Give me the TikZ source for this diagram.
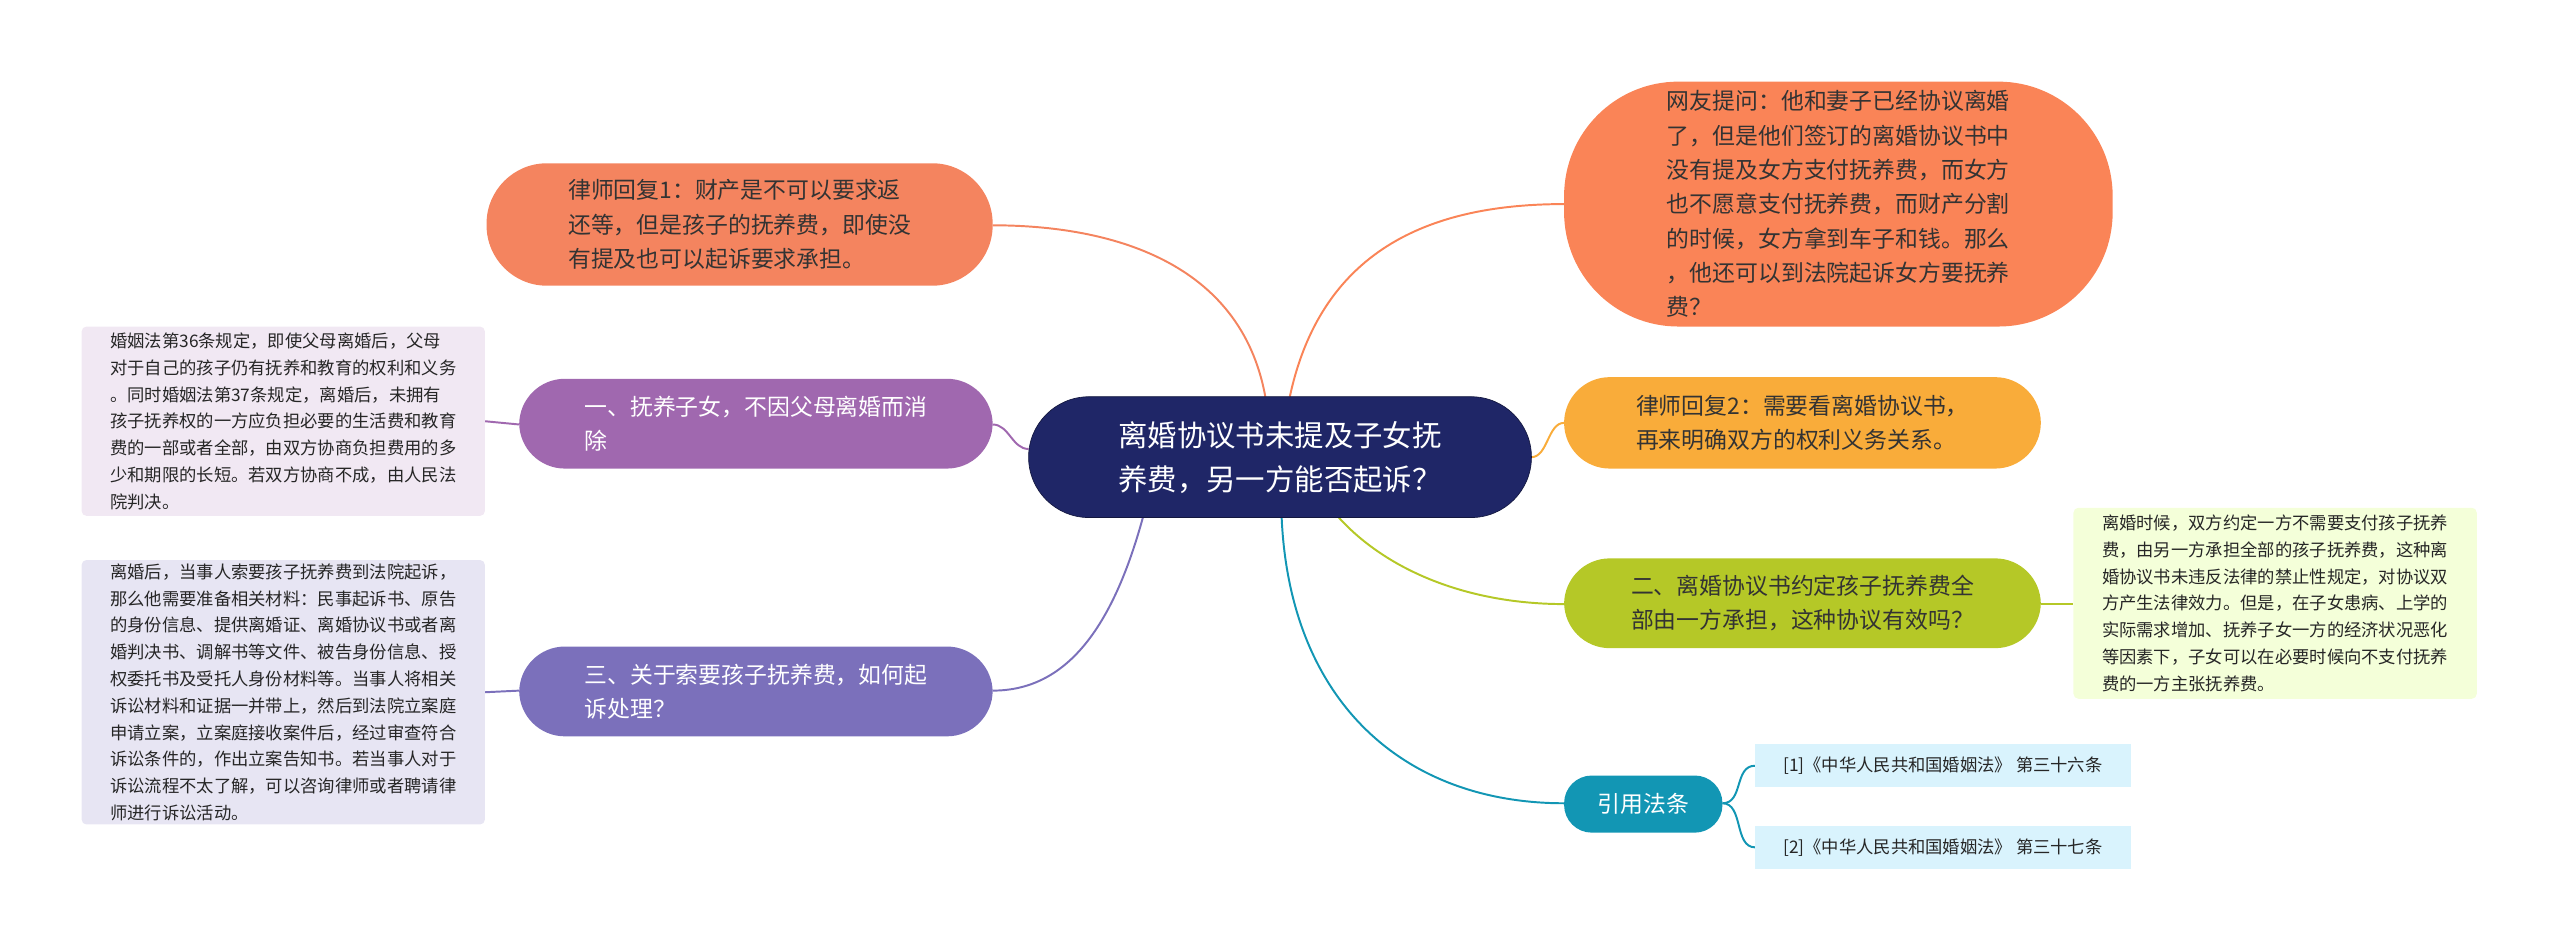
\documentclass[tikz,border=0pt]{standalone}
\usepackage{fontspec}
\setmainfont{Noto Sans CJK SC}
\begin{document}
\begin{tikzpicture}[x=1pt,y=-1pt,
  box/.style={minimum width=#1,inner sep=0pt,align=left,font=\fontsize{14}{21}\selectfont,text=black!80},
  main/.style={draw=none},
  note/.style={rounded corners=3pt,inner sep=0pt,align=left,font=\fontsize{10.6}{16.4}\selectfont,text=black!85},
  ln/.style={line width=1.2pt}]
\useasboundingbox (0,0) rectangle (1568,583);
\definecolor{cnav}{HTML}{1F2667}
\definecolor{cor}{HTML}{F4845F}
\definecolor{cor2}{HTML}{FA8457}
\definecolor{cyel}{HTML}{F9AC3A}
\definecolor{cgrn}{HTML}{B5C827}
\definecolor{cteal}{HTML}{1296B4}
\definecolor{cpur}{HTML}{A068AF}
\definecolor{cblu}{HTML}{7B70BB}
% edges first
\coordinate (cT1) at (775,243);
\coordinate (cT2) at (790,243);
\coordinate (cB1) at (820,317);
\coordinate (cB2) at (785,317);
\coordinate (cB3) at (700,317);
\draw[ln,cor] (cT1) .. controls (760,160) and (680,138) .. (608,138);
\draw[ln,cor2] (cT2) .. controls (810,150) and (880,125) .. (958,125);
\draw[ln,cyel] (938,280) .. controls (948,280) and (948,259) .. (958,259);
\draw[ln,cgrn] (cB1) .. controls (850,350) and (900,370) .. (958,370);
\draw[ln,cteal] (cB2) .. controls (790,430) and (860,492) .. (958,492);
\draw[ln,cpur] (630,275) .. controls (620,275) and (618,260) .. (608,260);
\draw[ln,cblu] (cB3) .. controls (680,390) and (650,423) .. (608,423);
\draw[ln,cpur] (318,260) -- (297,258);
\draw[ln,cblu] (318,423) -- (297,424);
\draw[ln,cgrn] (1250,370) -- (1270,370);
\draw[ln,cteal] (1055,492) .. controls (1068,492) and (1062,469) .. (1075,469);
\draw[ln,cteal] (1055,492) .. controls (1068,492) and (1062,519) .. (1075,519);
% nodes
\fill[cnav,draw=cnav!60!black] (630,243) [rounded corners=37pt] rectangle (938,317);
\node[font=\fontsize{18}{27}\selectfont,text=white,align=left] (c) at (784,280) {离婚协议书未提及子女抚\\养费，另一方能否起诉？};
\fill[cor] (298,100) [rounded corners=37pt] rectangle (608,175);
\node[box=0pt] (l1) at (453,137.5) {律师回复1：财产是不可以要求返\\还等，但是孩子的抚养费，即使没\\有提及也可以起诉要求承担。};
\fill[cor2] (958,50) [rounded corners=70pt] rectangle (1294,200);
\node[box=0pt] (q) at (1126,125) {网友提问：他和妻子已经协议离婚\\了，但是他们签订的离婚协议书中\\没有提及女方支付抚养费，而女方\\也不愿意支付抚养费，而财产分割\\的时候，女方拿到车子和钱。那么\\，他还可以到法院起诉女方要抚养\\费？};
\fill[cyel] (958,231) [rounded corners=28pt] rectangle (1250,287);
\node[box=0pt] (l2) at (1104,259) {律师回复2：需要看离婚协议书，\\再来明确双方的权利义务关系。};
\fill[cgrn] (958,342) [rounded corners=28pt] rectangle (1250,397);
\node[box=0pt] (n2) at (1104,369.5) {二、离婚协议书约定孩子抚养费全\\部由一方承担，这种协议有效吗？};
\fill[cteal] (958,475) [rounded corners=17pt] rectangle (1055,510);
\node[box=0pt,text=white] (ref) at (1006.5,492.5) {引用法条};
\fill[cyan!15!white,fill=cyan!15] (1075,456) rectangle (1305,482);
\node[note] (r1) at (1190,469) {[1]《中华人民共和国婚姻法》 第三十六条};
\fill[cyan!15] (1075,506) rectangle (1305,532);
\node[note] (r2) at (1190,519) {[2]《中华人民共和国婚姻法》 第三十七条};
\fill[green!30!yellow!15] (1270,311) [rounded corners=3pt] rectangle (1517,428);
\node[note] (nr) at (1393.5,369.5) {离婚时候，双方约定一方不需要支付孩子抚养\\费，由另一方承担全部的孩子抚养费，这种离\\婚协议书未违反法律的禁止性规定，对协议双\\方产生法律效力。但是，在子女患病、上学的\\实际需求增加、抚养子女一方的经济状况恶化\\等因素下，子女可以在必要时候向不支付抚养\\费的一方主张抚养费。};
\fill[cpur] (318,232) [rounded corners=28pt] rectangle (608,287);
\node[box=0pt,text=white] (n1) at (463,259.5) {一、抚养子女，不因父母离婚而消\\除};
\fill[cpur!15] (50,200) [rounded corners=3pt] rectangle (297,316);
\node[note] (nl1) at (173.5,258) {婚姻法第36条规定，即使父母离婚后，父母\\对于自己的孩子仍有抚养和教育的权利和义务\\。同时婚姻法第37条规定，离婚后，未拥有\\孩子抚养权的一方应负担必要的生活费和教育\\费的一部或者全部，由双方协商负担费用的多\\少和期限的长短。若双方协商不成，由人民法\\院判决。};
\fill[cblu] (318,396) [rounded corners=28pt] rectangle (608,451);
\node[box=0pt,text=white] (n3) at (463,423.5) {三、关于索要孩子抚养费，如何起\\诉处理？};
\fill[cblu!18] (50,343) [rounded corners=3pt] rectangle (297,505);
\node[note] (nl3) at (173.5,424) {离婚后，当事人索要孩子抚养费到法院起诉，\\那么他需要准备相关材料：民事起诉书、原告\\的身份信息、提供离婚证、离婚协议书或者离\\婚判决书、调解书等文件、被告身份信息、授\\权委托书及受托人身份材料等。当事人将相关\\诉讼材料和证据一并带上，然后到法院立案庭\\申请立案，立案庭接收案件后，经过审查符合\\诉讼条件的，作出立案告知书。若当事人对于\\诉讼流程不太了解，可以咨询律师或者聘请律\\师进行诉讼活动。};
\end{tikzpicture}
\end{document}
